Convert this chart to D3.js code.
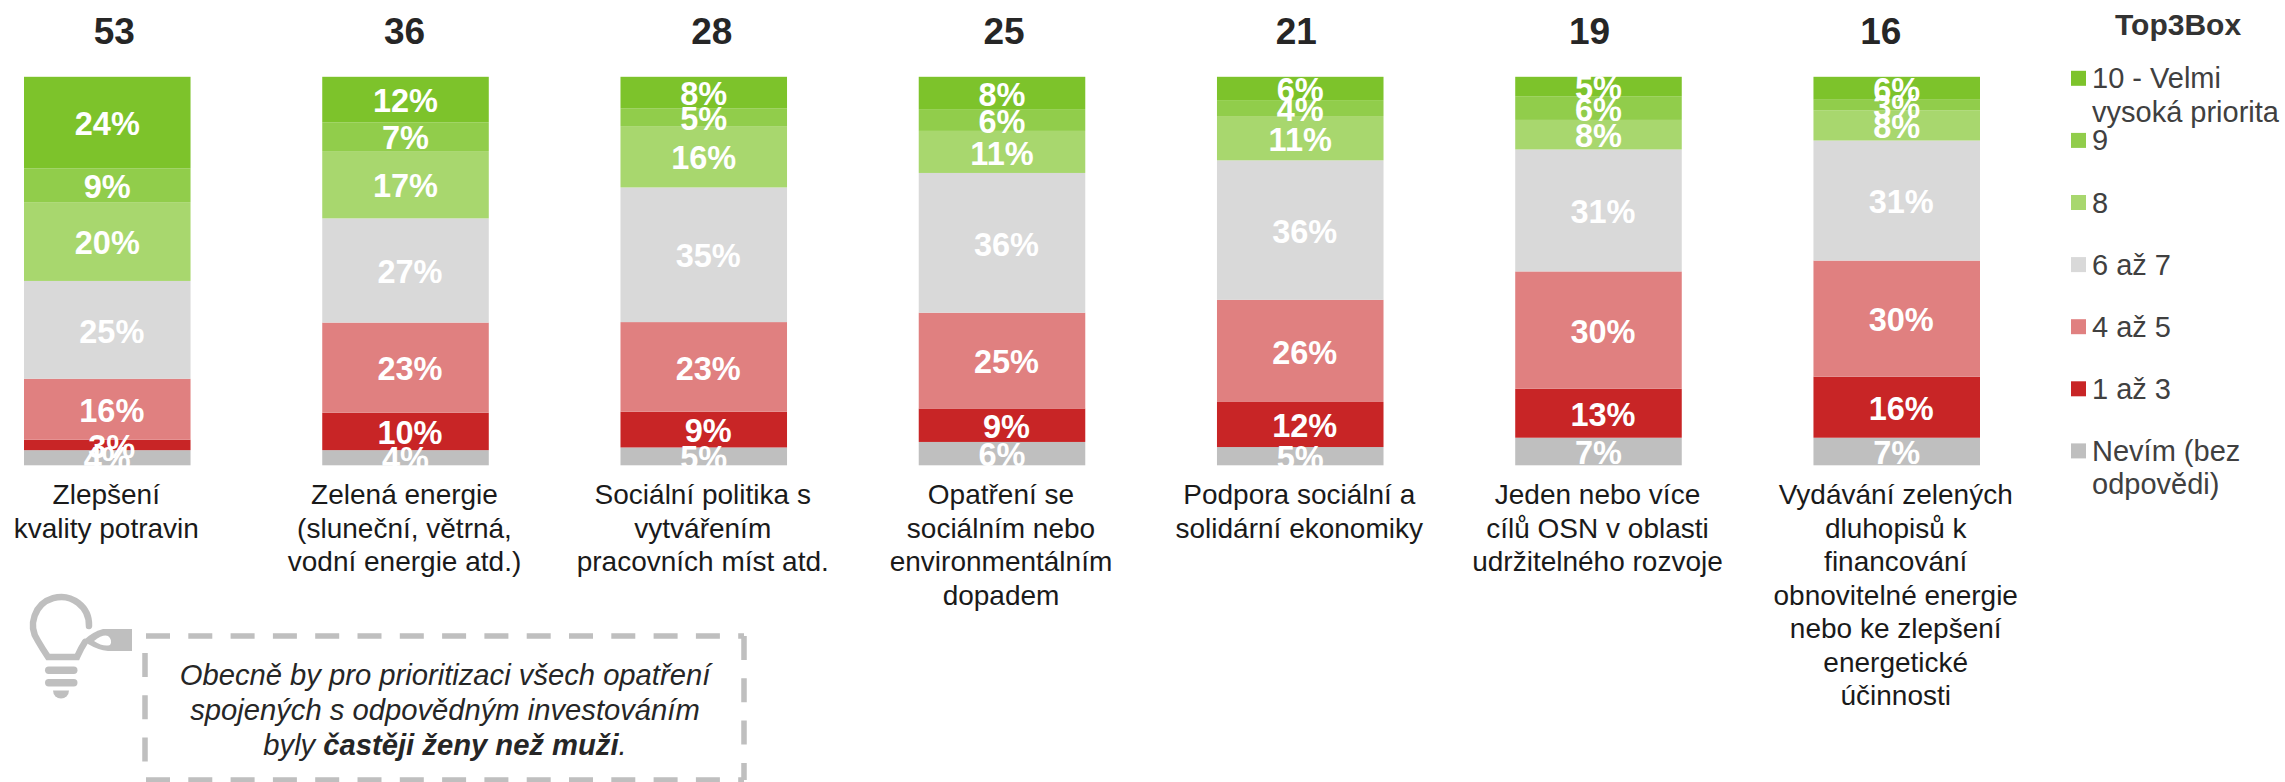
<!DOCTYPE html>
<html>
<head>
<meta charset="utf-8">
<script src="https://cdn.jsdelivr.net/npm/d3@7/dist/d3.min.js"></script>
<style>
  html,body{margin:0;padding:0;background:#fff;}
  svg{display:block;font-family:"Liberation Sans",Arial,sans-serif;}
  .val{font-size:32.5px;font-weight:bold;fill:#fff;text-anchor:middle;}
  .top3{font-size:37px;font-weight:bold;fill:#262626;text-anchor:middle;}
  .cat text{font-size:28px;fill:#1a1a1a;text-anchor:middle;}
  .leg{font-size:29px;fill:#404040;}
  .note{font-size:29.2px;font-style:italic;fill:#262626;text-anchor:middle;}
</style>
</head>
<body>
<svg id="chart" width="2285" height="782"></svg>
<script>
const categories = [
  ['Zlepšení','kvality potravin'],
  ['Zelená energie','(sluneční, větrná,','vodní energie atd.)'],
  ['Sociální politika s','vytvářením','pracovních míst atd.'],
  ['Opatření se','sociálním nebo','environmentálním','dopadem'],
  ['Podpora sociální a','solidární ekonomiky'],
  ['Jeden nebo více','cílů OSN v oblasti','udržitelného rozvoje'],
  ['Vydávání zelených','dluhopisů k','financování','obnovitelné energie','nebo ke zlepšení','energetické','účinnosti']
];
const top3Box = [53,36,28,25,21,19,16];

// hodnoty, popisky jsou zaokrouhlené
const v10  = [23.6,11.7, 8.1, 8.3, 6.0, 5.1, 5.9];
const v9   = [ 8.7, 7.4, 4.6, 5.6, 4.1, 6.0, 2.7];
const v8   = [20.3,17.3,15.8,10.8,11.4, 7.6, 7.8];
const v67  = [25.2,26.8,34.7,35.9,35.9,31.4,30.9];
const v45  = [15.7,23.2,23.1,24.6,26.3,30.2,29.9];
const v13  = [ 2.7, 9.6, 9.2, 8.6,11.6,12.6,15.7];
const vDk  = [ 3.9, 3.9, 4.6, 6.0, 4.7, 7.1, 7.1];

const seriesKeys = ['10','9','8','67','45','13','dk'];
const seriesValues = [v10,v9,v8,v67,v45,v13,vDk];
const legendLabels = [
  ['10 - Velmi','vysoká priorita'],['9'],['8'],['6 až 7'],['4 až 5'],['1 až 3'],['Nevím (bez','odpovědi)']
];
const seriesColors = ['#7dc32b','#91cd4b','#a8d76e','#d9d9d9','#e08080','#c82526','#bfbfbf'];

// ruční posuny popisků jako v originále
const labelDx = {'10':0,'9':0,'8':0,'67':4.5,'45':4.5,'13':4.5,'dk':0};
const top3Dx = [7,-1,8,2,-4,-9,-16];

const svg = d3.select('#chart');

const rows = categories.map((c,i)=>{
  const r = {idx:i};
  seriesKeys.forEach((k,s)=>{ r[k] = seriesValues[s][i]; });
  return r;
});
const stacked = d3.stack().keys(seriesKeys.slice().reverse()).offset(d3.stackOffsetExpand)(rows);
const color = d3.scaleOrdinal(seriesKeys, seriesColors);

const x = d3.scaleBand().domain(d3.range(categories.length))
  .range([24, 1980]).paddingInner(0.4416).paddingOuter(0);
const y = d3.scaleLinear().domain([0,1]).range([465.3, 76.8]);

// segmenty
const layers = svg.append('g').selectAll('g').data(stacked).enter().append('g')
  .attr('fill',d=>color(d.key));
layers.selectAll('rect').data(d=>d).enter().append('rect')
  .attr('x',d=>x(d.data.idx))
  .attr('width',x.bandwidth())
  .attr('y',d=>y(d[1]))
  .attr('height',d=>y(d[0])-y(d[1]));

// popisky hodnot (bílé, klidně přes okraj sloupce)
const labels = svg.append('g');
stacked.forEach(layer=>{
  labels.selectAll(null).data(layer).enter().append('text')
    .attr('class','val')
    .attr('x',d=>x(d.data.idx)+x.bandwidth()/2+labelDx[layer.key])
    .attr('y',d=>(y(d[0])+y(d[1]))/2+1)
    .attr('dy','.36em')
    .text(d=>Math.round(d.data[layer.key])+'%');
});

// Top3Box čísla
svg.append('g').selectAll('text').data(top3Box).enter().append('text')
  .attr('class','top3')
  .attr('x',(d,i)=>x(i)+x.bandwidth()/2+top3Dx[i])
  .attr('y',43.5)
  .text(d=>d);

// osa s kategoriemi
const axis = svg.append('g').attr('class','cat')
  .attr('transform','translate(-1,0)')
  .call(d3.axisBottom(x).tickSize(0).tickFormat(''));
axis.select('.domain').remove();
axis.selectAll('.tick').each(function(d){
  const t = d3.select(this).select('text').attr('y',0).attr('dy',null);
  t.selectAll('tspan').data(categories[d]).enter().append('tspan')
    .attr('x',0)
    .attr('y',(l,i)=>504+i*33.5)
    .text(l=>l);
});

// legenda
const legendY = d3.scalePoint().domain(seriesKeys).range([78.3,450.9]);
svg.append('text').attr('x',2115).attr('y',35).attr('font-size',30).attr('font-weight','bold')
  .attr('fill','#333').text('Top3Box');
const leg = svg.append('g').selectAll('g').data(seriesKeys).enter().append('g')
  .attr('transform',k=>`translate(2071,${legendY(k)})`);
leg.append('rect').attr('y',-7.5).attr('width',15).attr('height',15).attr('fill',k=>color(k));
leg.each(function(k,i){
  d3.select(this).selectAll('text').data(legendLabels[i]).enter().append('text')
    .attr('class','leg').attr('x',21).attr('y',(l,j)=>10+j*33.5).text(l=>l);
});

// rámeček s poznámkou
const dash = {stroke:'#bfbfbf','stroke-width':5.5,'stroke-dasharray':'24 18.3'};
const box = svg.append('g').attr('fill','none');
[[146,636,744,636],[146,780,744,780],[145,653,145,780],[744,636,744,780]].forEach(p=>{
  const l = box.append('line').attr('x1',p[0]).attr('y1',p[1]).attr('x2',p[2]).attr('y2',p[3]);
  Object.entries(dash).forEach(([a,b])=>l.attr(a,b));
});
const note = svg.append('g');
note.append('text').attr('class','note').attr('x',445).attr('y',685).text('Obecně by pro prioritizaci všech opatření');
note.append('text').attr('class','note').attr('x',445).attr('y',720).text('spojených s odpovědným investováním');
const n3 = note.append('text').attr('class','note').attr('x',445).attr('y',755);
n3.append('tspan').text('byly ');
n3.append('tspan').attr('font-weight','bold').text('častěji ženy než muži');
n3.append('tspan').text('.');

// žárovka
const bulb = svg.append('g').attr('fill','#bfbfbf').attr('stroke','none');
bulb.append('path').attr('fill','none').attr('stroke','#bfbfbf').attr('stroke-width',6.5).attr('stroke-linecap','round')
  .attr('d','M89,626 A28,28 0 1 0 38,641 Q42,648 48,657 L77,657 Q81,648 85,642');
bulb.append('path').attr('d','M84,640 Q92,632 103,629 L132,629 L132,651 L108,651 Q98,650 88,644 Z');
bulb.append('path').attr('fill','#fff').attr('d','M94,641 Q103,634 108,636 Q113,640 110,645 Q103,647 94,641 Z');
bulb.append('rect').attr('x',45).attr('y',666.5).attr('width',32.5).attr('height',7.5).attr('rx',3.7);
bulb.append('rect').attr('x',45).attr('y',679).attr('width',32.5).attr('height',7.5).attr('rx',3.7);
bulb.append('path').attr('d','M53,690.5 L69,690.5 A8,8 0 0 1 53,690.5 Z');
</script>
</body>
</html>
